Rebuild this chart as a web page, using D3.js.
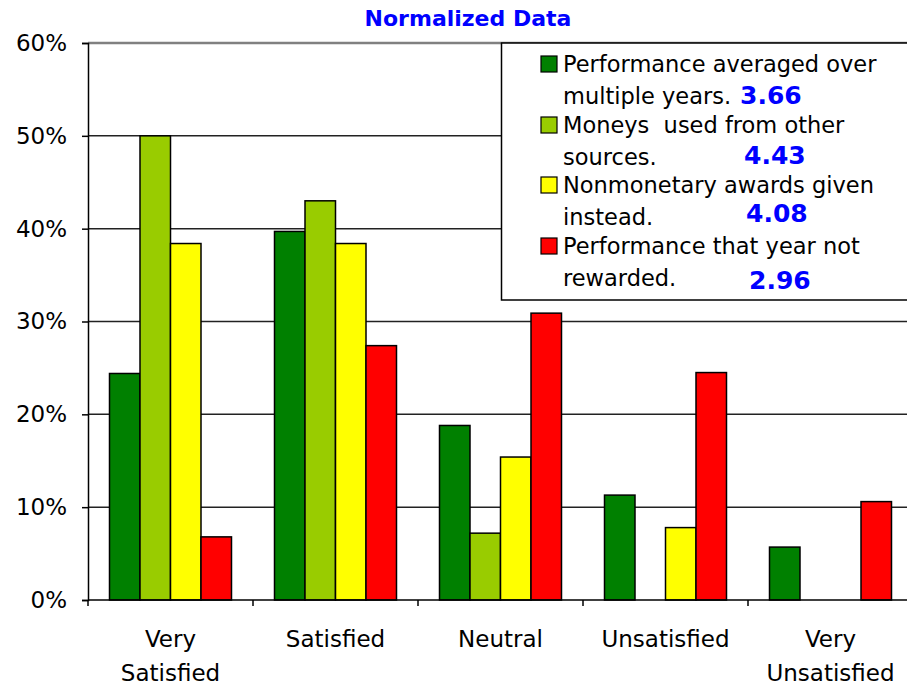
<!DOCTYPE html>
<html>
<head>
<meta charset="utf-8">
<script src="https://cdnjs.cloudflare.com/ajax/libs/d3/7.8.5/d3.min.js"></script>
<style>
  body { margin: 0; background: #fff; }
  text { font-family: "DejaVu Sans", Verdana, sans-serif; }
</style>
</head>
<body>
<div id="chart"></div>
<script>
// categories and series (as fractions)
var categories = ['Very Satisfied', 'Satisfied', 'Neutral', 'Unsatisfied', 'Very Unsatisfied']
var averaged    = [0.244, 0.397, 0.188, 0.113, 0.057]
var otherMoney  = [0.500, 0.430, 0.072, 0, 0]
var nonmonetary = [0.384, 0.384, 0.154, 0.078, 0]
var notRewarded = [0.068, 0.274, 0.309, 0.245, 0.106]
var scores = ['3.66', '4.43', '4.08', '2.96']
var yTicks = [0, 0.1, 0.2, 0.3, 0.4, 0.5, 0.6]
var legendLines = [
    ['Performance averaged over', 'multiple years.'],
    ['Moneys  used from other', 'sources.'],
    ['Nonmonetary awards given', 'instead.'],
    ['Performance that year not', 'rewarded.']
]

var colors = ['#008000', '#99CC00', '#FFFF00', '#FF0000']
var allSeries = [averaged, otherMoney, nonmonetary, notRewarded]

var width = 907
var height = 687
var plotLeft = 88, plotTop = 43, plotBottom = 600, plotRight = 913

var svg = d3.select('#chart').append('svg')
    .attr('width', width)
    .attr('height', height)

var y = d3.scaleLinear().domain([0, 0.6]).range([plotBottom, plotTop])
var x0 = d3.scaleBand().domain(categories).range([plotLeft, plotRight])
var x1 = d3.scaleBand().domain(d3.range(4))
    .range([21.5, x0.bandwidth() - 21.5])

// title
svg.append('text')
    .attr('x', 468).attr('y', 26)
    .attr('text-anchor', 'middle')
    .style('font-weight', 'bold')
    .style('font-size', '22px')
    .style('fill', '#0000FF')
    .text('Normalized Data')

// gridlines
svg.append('g').selectAll('line')
    .data(yTicks.slice(1))
    .enter().append('line')
    .attr('x1', plotLeft).attr('x2', plotRight)
    .attr('y1', function (d) { return y(d) })
    .attr('y2', function (d) { return y(d) })
    .attr('stroke', function (d) { return d >= 0.6 ? '#808080' : '#222' })
    .attr('stroke-width', function (d) { return d >= 0.6 ? 2.5 : 1.5 })

// bars
var groups = svg.append('g').selectAll('g')
    .data(categories)
    .enter().append('g')
    .attr('transform', function (d) { return 'translate(' + x0(d) + ',0)' })

groups.selectAll('rect')
    .data(function (d, i) {
        return allSeries.map(function (s, k) { return { k: k, v: s[i] } })
    })
    .enter().append('rect')
    .filter(function (d) { return d.v > 0 })
    .attr('x', function (d) { return x1(d.k) })
    .attr('width', x1.bandwidth())
    .attr('y', function (d) { return y(d.v) })
    .attr('height', function (d) { return y(0) - y(d.v) })
    .attr('fill', function (d) { return colors[d.k] })
    .attr('stroke', '#000')
    .attr('stroke-width', 1.5)

// y axis
var yAxis = d3.axisLeft(y).tickValues(yTicks).tickFormat(d3.format('.0%')).tickSize(6)
var gy = svg.append('g').attr('transform', 'translate(' + plotLeft + ',0)').call(yAxis)
gy.select('.domain').attr('stroke', '#000').attr('stroke-width', 1.5)
gy.selectAll('.tick line').attr('stroke', '#000').attr('stroke-width', 1.5)
gy.selectAll('.tick text')
    .attr('x', -21)
    .style('font-size', '23px')
    .style('font-family', '"DejaVu Sans", Verdana, sans-serif')
    .attr('fill', '#000')

// x axis: ticks at category boundaries
svg.append('line')
    .attr('x1', plotLeft).attr('x2', plotRight)
    .attr('y1', plotBottom).attr('y2', plotBottom)
    .attr('stroke', '#000').attr('stroke-width', 1.5)
svg.append('g').selectAll('line')
    .data(categories)
    .enter().append('line')
    .attr('x1', function (d) { return x0(d) })
    .attr('x2', function (d) { return x0(d) })
    .attr('y1', plotBottom).attr('y2', plotBottom + 6)
    .attr('stroke', '#000').attr('stroke-width', 1.5)

var xLabels = svg.append('g').selectAll('text')
    .data(categories)
    .enter().append('text')
    .attr('text-anchor', 'middle')
    .style('font-size', '23px')
    .attr('transform', function (d) { return 'translate(' + (x0(d) + x0.bandwidth() / 2) + ',0)' })

xLabels.each(function (d) {
    var words = d.indexOf('Very') === 0 ? ['Very', d.slice(5)] : [d]
    var t = d3.select(this)
    words.forEach(function (w, i) {
        t.append('tspan').attr('x', 0).attr('y', 647 + i * 34).text(w)
    })
})

// legend
var legend = svg.append('g')
legend.append('rect')
    .attr('x', 501.5).attr('y', 43)
    .attr('width', 420).attr('height', 257)
    .attr('fill', '#fff')
    .attr('stroke', '#000').attr('stroke-width', 1.5)

var rowY = [72, 133, 193, 254]
var scoreX = [740, 744, 746, 749]
var scoreY = [104, 164, 222, 289]

legendLines.forEach(function (lines, k) {
    legend.append('rect')
        .attr('x', 541).attr('y', rowY[k] - 16)
        .attr('width', 16).attr('height', 16)
        .attr('fill', colors[k])
        .attr('stroke', '#000').attr('stroke-width', 1.2)
    var t = legend.append('text')
        .style('font-size', '22.5px')
        .attr('xml:space', 'preserve')
    t.append('tspan').attr('x', 563).attr('y', rowY[k]).text(lines[0])
    t.append('tspan').attr('x', 563).attr('y', rowY[k] + 32).text(lines[1])
    legend.append('text')
        .attr('x', scoreX[k]).attr('y', scoreY[k])
        .style('font-size', '25px')
        .style('font-weight', 'bold')
        .style('fill', '#0000FF')
        .text(scores[k])
})
</script>
</body>
</html>
